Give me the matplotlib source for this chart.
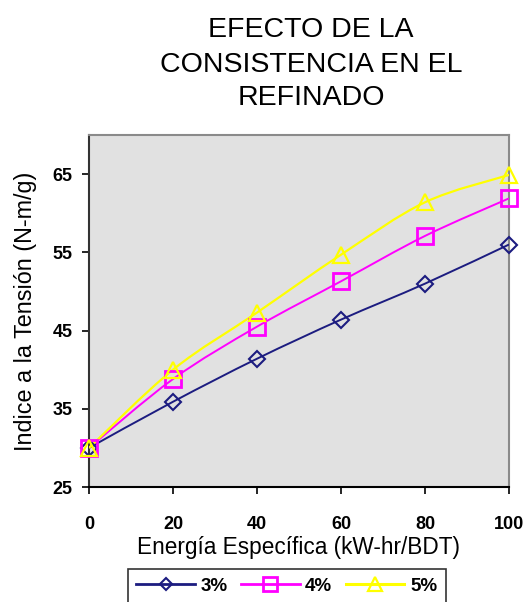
import numpy as np
import matplotlib
matplotlib.use('Agg')
import matplotlib.pyplot as plt
from matplotlib.path import Path
from matplotlib.patches import PathPatch
from matplotlib.lines import Line2D

plt.rcParams['font.family'] = ['Liberation Sans', 'DejaVu Sans']

# data
energia = [0, 20, 40, 60, 80, 100]
tension_3 = [30.0, 35.9, 41.4, 46.4, 51.0, 56.0]
tension_4 = [30.0, 38.8, 45.5, 51.3, 57.1, 61.9]
tension_5 = [30.0, 40.0, 47.3, 54.7, 61.4, 64.9]
series_labels = ['3%', '4%', '5%']
y_ticks = [25, 35, 45, 55, 65]
x_ticks = [0, 20, 40, 60, 80, 100]
title_lines = ['EFECTO DE LA', 'CONSISTENCIA EN EL', 'REFINADO']


def smooth_path(xs, ys):
    """Excel-like smoothed line: cubic Bezier through every point."""
    pts = np.column_stack([xs, ys]).astype(float)
    verts = [pts[0]]
    codes = [Path.MOVETO]
    n = len(pts)
    for i in range(n - 1):
        p0 = pts[max(i - 1, 0)]
        p1 = pts[i]
        p2 = pts[i + 1]
        p3 = pts[min(i + 2, n - 1)]
        c1 = p1 + (p2 - p0) / 6.0
        c2 = p2 - (p3 - p1) / 6.0
        verts += [c1, c2, p2]
        codes += [Path.CURVE4] * 3
    return Path(verts, codes)


fig = plt.figure(figsize=(5.25, 6.02), dpi=100, facecolor='white')
ax = fig.add_axes([0.1695, 0.191, 0.80, 0.5847])
ax.set_facecolor('#e1e1e1')

styles = [
    (tension_3, '#1c1c80', 'D', 8, 1.5, 1.4),
    (tension_4, '#ff00ff', 's', 11, 2.0, 1.4),
    (tension_5, '#ffff00', '^', 12, 1.6, 1.6),
]
handles = []
for (vals, col, mk, ms, mew, lw), lab in zip(styles, series_labels):
    ax.add_patch(PathPatch(smooth_path(energia, vals), facecolor='none',
                           edgecolor=col, lw=lw, zorder=3))
    ax.plot(energia, vals, linestyle='none', marker=mk, markersize=ms,
            markerfacecolor='none', markeredgecolor=col, markeredgewidth=mew,
            zorder=4, clip_on=False)
    handles.append(Line2D([], [], color=col, lw=lw + 0.6, marker=mk,
                          markersize=ms - 1.5, markerfacecolor='none',
                          markeredgecolor=col, markeredgewidth=mew))

ax.set_xlim(0, 100)
ax.set_ylim(25, 70)
ax.set_xticks(x_ticks)
ax.set_yticks(y_ticks)
ax.tick_params(direction='out', length=5, width=1.2, color='black',
               labelsize=13)
ax.tick_params(axis='x', pad=16)
ax.tick_params(axis='y', pad=7)
for lbl in ax.get_xticklabels() + ax.get_yticklabels():
    lbl.set_fontweight('bold')
for side in ('top', 'right'):
    ax.spines[side].set_color('#8a8a8a')
    ax.spines[side].set_linewidth(1.5)
ax.spines['left'].set_color('#333333')
ax.spines['left'].set_linewidth(1.5)
ax.spines['bottom'].set_color('black')
ax.spines['bottom'].set_linewidth(1.5)

ax.set_xlabel('Energía Específica (kW-hr/BDT)', fontsize=16.3, labelpad=2)
ax.set_ylabel('Indice a la Tensión (N-m/g)', fontsize=16.8, labelpad=11)

for line, yc in zip(title_lines, [30, 64.5, 98]):
    fig.text(311 / 525, 1 - yc / 602, line, ha='center', va='center',
             fontsize=20.5)

leg = fig.legend(handles, series_labels, loc='upper left',
                 bbox_to_anchor=(128 / 525, 1 - 569 / 602), ncol=3,
                 borderaxespad=0, frameon=True, fancybox=False,
                 edgecolor='black', handlelength=3.1, handletextpad=0.3,
                 columnspacing=0.75, borderpad=0.45,
                 prop={'weight': 'bold', 'size': 13.5})
leg.get_frame().set_linewidth(1.2)

fig.savefig('out.png', dpi=100, facecolor='white')
